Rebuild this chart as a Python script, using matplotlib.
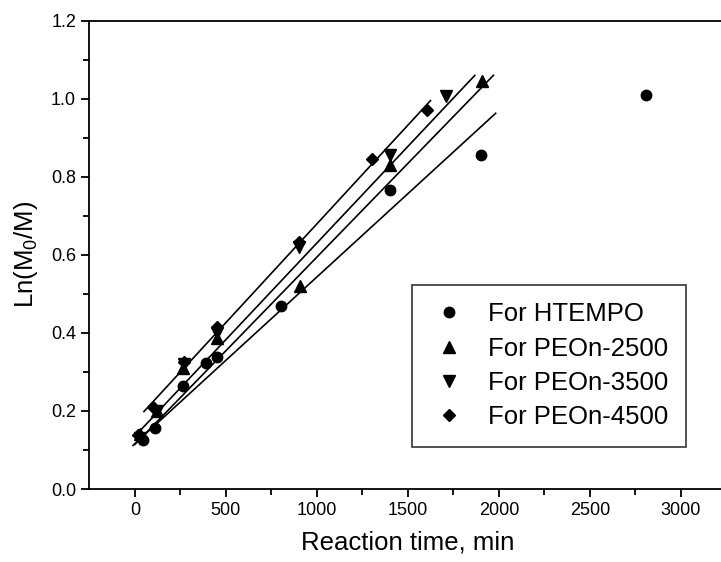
import matplotlib.pyplot as plt
import numpy as np

plt.rcParams['font.family'] = ['Liberation Sans', 'DejaVu Sans']
plt.rcParams['mathtext.fontset'] = 'custom'
plt.rcParams['mathtext.rm'] = 'Liberation Sans'

labels = ['For HTEMPO', 'For PEOn-2500', 'For PEOn-3500', 'For PEOn-4500']
markers = ['o', '^', 'v', 'D']

# measured points
t_htempo = [46, 110, 265, 391, 450, 802, 1404, 1904, 2808]
y_htempo = [0.125, 0.157, 0.265, 0.323, 0.337, 0.468, 0.765, 0.856, 1.010]
t_2500 = [28, 120, 266, 450, 905, 1404, 1909]
y_2500 = [0.140, 0.200, 0.309, 0.386, 0.521, 0.829, 1.044]
t_3500 = [30, 120, 270, 450, 900, 1404, 1707]
y_3500 = [0.130, 0.200, 0.320, 0.400, 0.620, 0.855, 1.006]
t_4500 = [18, 101, 271, 450, 900, 1303, 1606]
y_4500 = [0.138, 0.211, 0.326, 0.414, 0.633, 0.844, 0.970]

# fitted lines (slope, intercept, start, end)
fit_slope = [0.000427, 0.000480, 0.000495, 0.000506]
fit_icpt = [0.116, 0.114, 0.135, 0.173]
fit_start = [-10, 0, 10, 50]
fit_end = [1982, 1970, 1867, 1624]

xs = [t_htempo, t_2500, t_3500, t_4500]
ys = [y_htempo, y_2500, y_3500, y_4500]
msizes = [7.5, 8.5, 8.5, 6.5]

fig = plt.figure(figsize=(7.21, 5.62), dpi=100)
ax = fig.add_axes([89.3 / 721, 1 - 489 / 562, (726.5 - 89.3) / 721, (489 - 20.5) / 562])

for i in range(4):
    xx = np.array([fit_start[i], fit_end[i]])
    ax.plot(xx, fit_slope[i] * xx + fit_icpt[i], color='black', lw=1.2)
for i in range(4):
    ax.plot(xs[i], ys[i], linestyle='none', marker=markers[i], color='black',
            markersize=msizes[i], label=labels[i])

ax.set_xlim(-250, 3250)
ax.set_ylim(0, 1.2)
ax.set_xticks([0, 500, 1000, 1500, 2000, 2500, 3000])
ax.set_xticks(np.arange(250, 3250, 500), minor=True)
ax.set_yticks(np.arange(0, 1.21, 0.2))
ax.set_yticks(np.arange(0.1, 1.2, 0.2), minor=True)
ax.yaxis.set_major_formatter(plt.FormatStrFormatter('%.1f'))

for s in ax.spines.values():
    s.set_linewidth(1.3)
ax.tick_params(which='major', direction='out', length=6, width=1.3, labelsize=13)
ax.tick_params(which='minor', direction='out', length=4, width=1.3)

ax.set_xlabel('Reaction time, min', fontsize=18.5, labelpad=8)
ax.set_ylabel('Ln(M$_\\mathregular{0}$/M)', fontsize=18.5, labelpad=8)

leg = ax.legend(loc='upper left', bbox_to_anchor=(412 / 721, 1 - 285 / 562),
                bbox_transform=fig.transFigure, fontsize=18.5,
                frameon=True, fancybox=False, edgecolor='black', handletextpad=0.78,
                borderpad=0.68, labelspacing=0.4, handlelength=1.5, borderaxespad=0)
leg.get_frame().set_linewidth(1.2)

fig.savefig('out.png', dpi=100)
